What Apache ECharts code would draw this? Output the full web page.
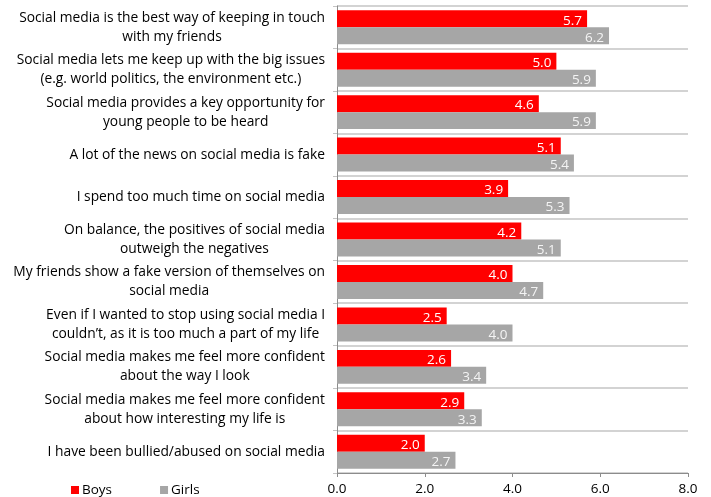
<!DOCTYPE html>
<html>
<head>
<meta charset="utf-8">
<script src="https://cdn.jsdelivr.net/npm/echarts@6/dist/echarts.min.js"></script>
<style>
  html, body { margin: 0; padding: 0; background: #fff; }
  #chart { width: 711px; height: 497px; }
</style>
</head>
<body>
<div id="chart"></div>
<script>
// Statements, top to bottom; "\n" marks the line breaks of each label
const categories = [
  'Social media is the best way of keeping in touch\nwith my friends',
  'Social media lets me keep up with the big issues\n(e.g. world politics, the environment etc.)',
  'Social media provides a key opportunity for\nyoung people to be heard',
  'A lot of the news on social media is fake',
  'I spend too much time on social media',
  'On balance, the positives of social media\noutweigh the negatives',
  'My friends show a fake version of themselves on\nsocial media',
  'Even if I wanted to stop using social media I\ncouldn\u2019t, as it is too much a part of my life',
  'Social media makes me feel more confident\nabout the way I look',
  'Social media makes me feel more confident\nabout how interesting my life is',
  'I have been bullied/abused on social media'
];
const boys  = [5.7, 5.0, 4.6, 5.1, 3.9, 4.2, 4.0, 2.5, 2.6, 2.9, 2.0];
const girls = [6.2, 5.9, 5.9, 5.4, 5.3, 5.1, 4.7, 4.0, 3.4, 3.3, 2.7];
const xTicks = [0, 2, 4, 6, 8];

const FONT = 'Open Sans';
const chart = echarts.init(document.getElementById('chart'));

const valueLabel = color => ({
  show: true,
  position: 'insideRight',
  distance: 5,
  offset: [0, 2],
  color: color,
  fontFamily: FONT,
  fontSize: 13.5,
  formatter: p => p.value.toFixed(1)
});

chart.setOption({
  animation: false,
  textStyle: { fontFamily: FONT },
  grid: { left: 337, right: 23, top: 6, bottom: 24, containLabel: false },
  legend: {
    left: 66,
    top: 478,
    itemWidth: 8,
    itemHeight: 8,
    itemGap: 48,
    icon: 'rect',
    textStyle: { fontFamily: FONT, fontSize: 13.5, color: '#000', padding: [0, 0, 0, -2] },
    data: ['Boys', 'Girls']
  },
  xAxis: {
    type: 'value',
    min: xTicks[0],
    max: xTicks[xTicks.length - 1],
    interval: xTicks[1] - xTicks[0],
    axisLine: { show: true, lineStyle: { color: '#8c8c8c', width: 1 } },
    axisTick: { show: true, length: 4, lineStyle: { color: '#8c8c8c' } },
    splitLine: { show: false },
    axisLabel: {
      margin: 9,
      color: '#000',
      fontFamily: FONT,
      fontSize: 13.5,
      formatter: v => v.toFixed(1)
    }
  },
  yAxis: {
    type: 'category',
    inverse: true,
    data: categories,
    axisLine: { show: true, lineStyle: { color: '#8c8c8c', width: 1 } },
    axisTick: { show: true, length: 4, lineStyle: { color: '#c4c4c4' } },
    splitLine: { show: true, lineStyle: { color: '#c4c4c4', width: 1.5 } },
    axisLabel: {
      margin: 12,
      interval: 0,
      color: '#000',
      fontFamily: FONT,
      fontSize: 13.8,
      formatter: v => v.split('\n').map(s => '{c|' + s + '}').join('\n'),
      rich: {
        c: { align: 'center', fontFamily: FONT, fontSize: 13.8, color: '#000', lineHeight: 19 }
      }
    }
  },
  series: [
    {
      name: 'Boys',
      type: 'bar',
      data: boys,
      barGap: '0%',
      barCategoryGap: '20%',
      itemStyle: { color: '#ff0000' },
      label: valueLabel('#ffffff')
    },
    {
      name: 'Girls',
      type: 'bar',
      data: girls,
      barGap: '0%',
      barCategoryGap: '20%',
      itemStyle: { color: '#a6a6a6' },
      label: valueLabel('#f4f4f4')
    }
  ]
});
</script>
</body>
</html>
